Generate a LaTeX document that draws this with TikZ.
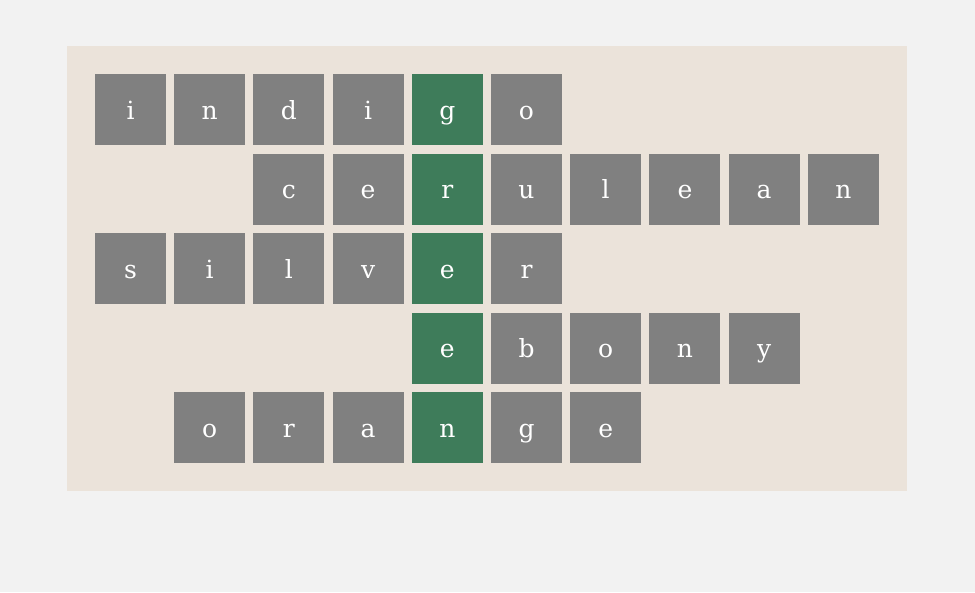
\documentclass[tikz,border=0pt]{standalone}
\usepackage{fontspec}
\setmainfont{DejaVu Serif}
\usepackage{tikz}
\usepackage{xcolor}
\definecolor{pagebg}{HTML}{F2F2F2}
\definecolor{panelbg}{HTML}{EBE3DA}
\definecolor{tilegray}{HTML}{808080}
\definecolor{tilegreen}{HTML}{3E7C5A}

\begin{document}
\begin{tikzpicture}[x=1pt, y=-1pt,
    every node/.style={minimum size=71pt, inner sep=0pt, outer sep=0pt, text=white,
        text height=19pt, text depth=0pt, font=\fontsize{25}{30}\selectfont},
    tile/.style={fill=tilegray},
    keytile/.style={fill=tilegreen}]
    \fill[pagebg] (0,0) rectangle (975,592);
    \useasboundingbox (0,0) rectangle (975,592);
    \fill[panelbg] (67,46) rectangle (907,491);

    \foreach \r/\s/\w in {0/0/{i,n,d,i,g,o}, 1/2/{c,e,r,u,l,e,a,n}, 2/0/{s,i,l,v,e,r},
                          3/4/{e,b,o,n,y}, 4/1/{o,r,a,n,g,e}} {
        \foreach \ch [count=\k from 0] in \w {
            \pgfmathtruncatemacro\col{\s+\k}
            \ifnum\col=4
                \node[keytile] (c-\r-\col) at (130.5+79.2*\col, 109.5+79.5*\r) {\ch};
            \else
                \node[tile] (c-\r-\col) at (130.5+79.2*\col, 109.5+79.5*\r) {\ch};
            \fi
        }
    }
\end{tikzpicture}
\end{document}
